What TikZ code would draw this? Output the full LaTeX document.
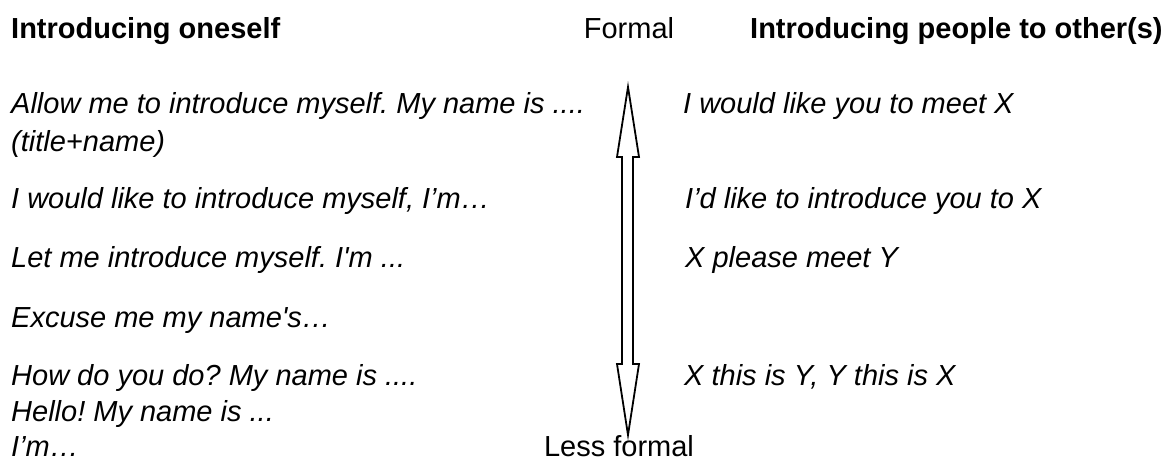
\documentclass[tikz,border=0pt]{standalone}
\usepackage{fontspec}
\setmainfont{Liberation Sans}
\frenchspacing
\begin{document}
\begin{tikzpicture}[x=1pt,y=-1pt,
  txt/.style={anchor=base west,inner sep=0pt,font=\fontsize{29}{33}\selectfont\itshape},
  headtxt/.style={anchor=base west,inner sep=0pt,font=\fontsize{29}{33}\selectfont\bfseries},
  lbl/.style={anchor=base,inner sep=0pt,font=\fontsize{29}{33}\selectfont},
  blockarrow/.style={draw=black,line width=1.8pt,fill=white,line join=miter}]
\useasboundingbox (0,0) rectangle (1170,462);
% headings
\node[headtxt] (h1) at (11,39) {Introducing oneself};
\node[lbl] (formal) at (629,39) {Formal};
\node[headtxt] (h2) at (750,39) {Introducing people to other(s)};
% left column
\node[txt] (l1) at (11,114) {Allow me to introduce myself. My name is ....};
\node[txt] (l1b) at (11,152) {(title+name)};
\node[txt] (l2) at (11,209) {I would like to introduce myself, I’m…};
\node[txt] (l3) at (11,268) {Let me introduce myself. I\textquotesingle m ...};
\node[txt] (l4) at (11,327) {Excuse me my name\textquotesingle s…};
\node[txt] (l5) at (11,385) {How do you do? My name is ....};
\node[txt] (l5b) at (11,421) {Hello! My name is ...};
\node[txt] (l5c) at (11,456) {I’m…};
% right column
\node[txt] (r1) at (683,114) {I would like you to meet X};
\node[txt] (r2) at (685,209) {I’d like to introduce you to X};
\node[txt] (r3) at (685,268) {X please meet Y};
\node[txt] (r5) at (684,385) {X this is Y, Y this is X};
% less formal
\node[lbl] (less) at (619,456) {Less formal};
% double block arrow
\coordinate (top) at (628,87);
\coordinate (bot) at (628,435);
\draw[blockarrow] (top) -- (639,157) -- (633,157) -- (633,364) -- (639,364)
  -- (bot) -- (617,364) -- (622,364) -- (622,157) -- (617,157) -- cycle;
\end{tikzpicture}
\end{document}
